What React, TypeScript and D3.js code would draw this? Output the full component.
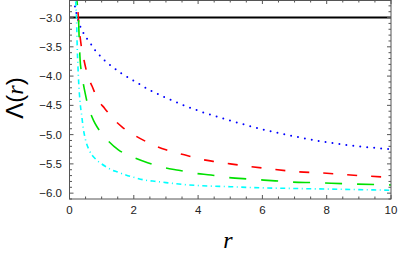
import React, { useEffect, useRef } from 'react';
import * as d3 from 'd3';

// r values and Λ(r), one list per curve
const blueR = [0.12, 0.155, 0.23, 0.3, 0.42, 0.54, 0.65, 0.81, 0.96, 1.14, 1.33, 1.6, 2, 2.5, 3, 4, 5, 6, 7, 8, 9, 10];
const blueL = [-2.45, -2.73, -2.96, -3.1, -3.25, -3.36, -3.44, -3.57, -3.66, -3.76, -3.84, -3.95, -4.08, -4.24, -4.37, -4.59, -4.76, -4.91, -5.03, -5.13, -5.2, -5.25];

const redR = [0.22, 0.24, 0.27, 0.29, 0.33, 0.37, 0.46, 0.57, 0.7, 0.88, 1.09, 1.38, 1.64, 2.02, 2.5, 3, 3.6, 4, 4.5, 5, 6, 7, 8, 9, 10];
const redL = [-2.5, -2.7, -2.95, -3.13, -3.33, -3.5, -3.75, -4.0, -4.17, -4.4, -4.55, -4.74, -4.87, -5.01, -5.15, -5.26, -5.35, -5.41, -5.46, -5.5, -5.57, -5.63, -5.66, -5.7, -5.73];

const greenR = [0.21, 0.23, 0.26, 0.28, 0.3, 0.33, 0.37, 0.42, 0.49, 0.55, 0.62, 0.75, 0.86, 1.0, 1.14, 1.52, 1.95, 2.43, 2.92, 3.4, 3.9, 4.4, 4.9, 5.6, 6.4, 6.9, 7.6, 8.6, 10];
const greenL = [-2.5, -2.7, -2.85, -3.0, -3.35, -3.72, -3.93, -4.1, -4.3, -4.45, -4.58, -4.76, -4.87, -4.98, -5.07, -5.26, -5.38, -5.48, -5.56, -5.61, -5.66, -5.69, -5.73, -5.76, -5.79, -5.81, -5.82, -5.84, -5.86];

const cyanR = [0.17, 0.19, 0.22, 0.24, 0.26, 0.29, 0.33, 0.385, 0.43, 0.49, 0.54, 0.6, 0.7, 0.78, 0.9, 1.0, 1.11, 1.3, 1.5, 1.75, 2.0, 2.38, 2.7, 3.0, 3.5, 4, 5, 6, 7, 8, 9, 10];
const cyanL = [-2.5, -2.7, -3.05, -3.5, -3.8, -4.15, -4.45, -4.7, -4.9, -5.07, -5.17, -5.25, -5.35, -5.4, -5.46, -5.5, -5.54, -5.6, -5.64, -5.69, -5.73, -5.78, -5.8, -5.82, -5.85, -5.87, -5.89, -5.91, -5.92, -5.93, -5.94, -5.95];

const refLevel = -3.0;

const xTicks = [0, 2, 4, 6, 8, 10];
const yTicks = [-3.0, -3.5, -4.0, -4.5, -5.0, -5.5, -6.0];

const App: React.FC = () => {
  const svgRef = useRef<SVGSVGElement | null>(null);

  useEffect(() => {
    const svg = d3.select(svgRef.current);
    svg.selectAll('*').remove();

    const x = d3.scaleLinear().domain([0, 10]).range([69.5, 391]);
    const y = d3.scaleLinear().domain([-6.1, -2.7]).range([199, 0]);
    const [x0, x1] = x.range();
    const [y0, y1] = y.range();

    svg
      .append('defs')
      .append('clipPath')
      .attr('id', 'plot')
      .append('rect')
      .attr('x', x0)
      .attr('y', y1)
      .attr('width', x1 - x0)
      .attr('height', y0 - y1);

    const plot = svg.append('g').attr('clip-path', 'url(#plot)');

    plot
      .append('line')
      .attr('x1', x0)
      .attr('x2', x1)
      .attr('y1', y(refLevel))
      .attr('y2', y(refLevel))
      .attr('stroke', '#000')
      .attr('stroke-width', 2);

    const line = d3
      .line<[number, number]>()
      .x((d) => x(d[0]))
      .y((d) => y(d[1]))
      .curve(d3.curveMonotoneX);

    const series = [
      { r: blueR, v: blueL, color: '#0000ff', dash: '0,7', cap: 'round', w: 2 },
      { r: redR, v: redL, color: '#ff0000', dash: '10,14', cap: 'butt', w: 1.6 },
      { r: greenR, v: greenL, color: '#00e000', dash: '17,15', cap: 'butt', w: 1.6 },
      { r: cyanR, v: cyanL, color: '#00ffff', dash: '5,3.5,1,3.5', cap: 'butt', w: 1.6 },
    ];

    series.forEach((s) => {
      plot
        .append('path')
        .datum(s.r.map((r, i) => [r, s.v[i]] as [number, number]))
        .attr('d', line)
        .attr('fill', 'none')
        .attr('stroke', s.color)
        .attr('stroke-width', s.w)
        .attr('stroke-dasharray', s.dash)
        .attr('stroke-linecap', s.cap);
    });

    // frame with ticks on every side
    const frame = svg.append('g').attr('stroke', '#555').attr('stroke-width', 1);
    frame
      .append('rect')
      .attr('x', x0)
      .attr('y', y1 + 0.5)
      .attr('width', x1 - x0)
      .attr('height', y0 - y1 - 0.5)
      .attr('fill', 'none');

    const xMinor = d3.range(0, 10.01, 0.5);
    xMinor.forEach((t) => {
      const major = Math.abs(t % 2) < 1e-6;
      const len = major ? 4 : 2.5;
      frame.append('line').attr('x1', x(t)).attr('x2', x(t)).attr('y1', y0).attr('y2', y0 - len);
      frame.append('line').attr('x1', x(t)).attr('x2', x(t)).attr('y1', y1).attr('y2', y1 + len);
    });

    const yMinor = d3.range(-6.1, -2.69, 0.1).map((v) => Math.round(v * 10) / 10);
    yMinor.forEach((t) => {
      const major = Math.abs(Math.round(t * 10) % 5) === 0;
      const len = major ? 4 : 2.5;
      frame.append('line').attr('x1', x0).attr('x2', x0 + len).attr('y1', y(t)).attr('y2', y(t));
      frame.append('line').attr('x1', x1).attr('x2', x1 - len).attr('y1', y(t)).attr('y2', y(t));
    });

    const labels = svg
      .append('g')
      .attr('font-family', 'Liberation Sans, Arial, sans-serif')
      .attr('font-size', 11.5)
      .attr('fill', '#222');

    labels
      .selectAll('.xt')
      .data(xTicks)
      .join('text')
      .attr('class', 'xt')
      .attr('x', (d) => x(d))
      .attr('y', 214)
      .attr('text-anchor', 'middle')
      .text((d) => String(d));

    labels
      .selectAll('.yt')
      .data(yTicks)
      .join('text')
      .attr('class', 'yt')
      .attr('x', 62)
      .attr('y', (d) => y(d) + 4)
      .attr('text-anchor', 'end')
      .text((d) => d.toFixed(1).replace('-', '\u2212'));

    svg
      .append('text')
      .attr('x', 228)
      .attr('y', 248)
      .attr('text-anchor', 'middle')
      .attr('font-family', 'Liberation Serif, Times New Roman, serif')
      .attr('font-style', 'italic')
      .attr('font-size', 24)
      .text('r');

    const yl = svg
      .append('text')
      .attr('transform', 'translate(23,98) rotate(-90)')
      .attr('text-anchor', 'middle')
      .attr('font-family', 'Liberation Sans, Arial, sans-serif')
      .attr('font-size', 24);
    yl.append('tspan').text('\u039b(');
    yl.append('tspan').attr('font-family', 'Liberation Serif, Times New Roman, serif').attr('font-style', 'italic').text('r');
    yl.append('tspan').text(')');
  }, []);

  return (
    <svg
      ref={svgRef}
      width={399}
      height={257}
      style={{ position: 'absolute', left: 0, top: 0, background: '#fff' }}
    />
  );
};

export default App;
